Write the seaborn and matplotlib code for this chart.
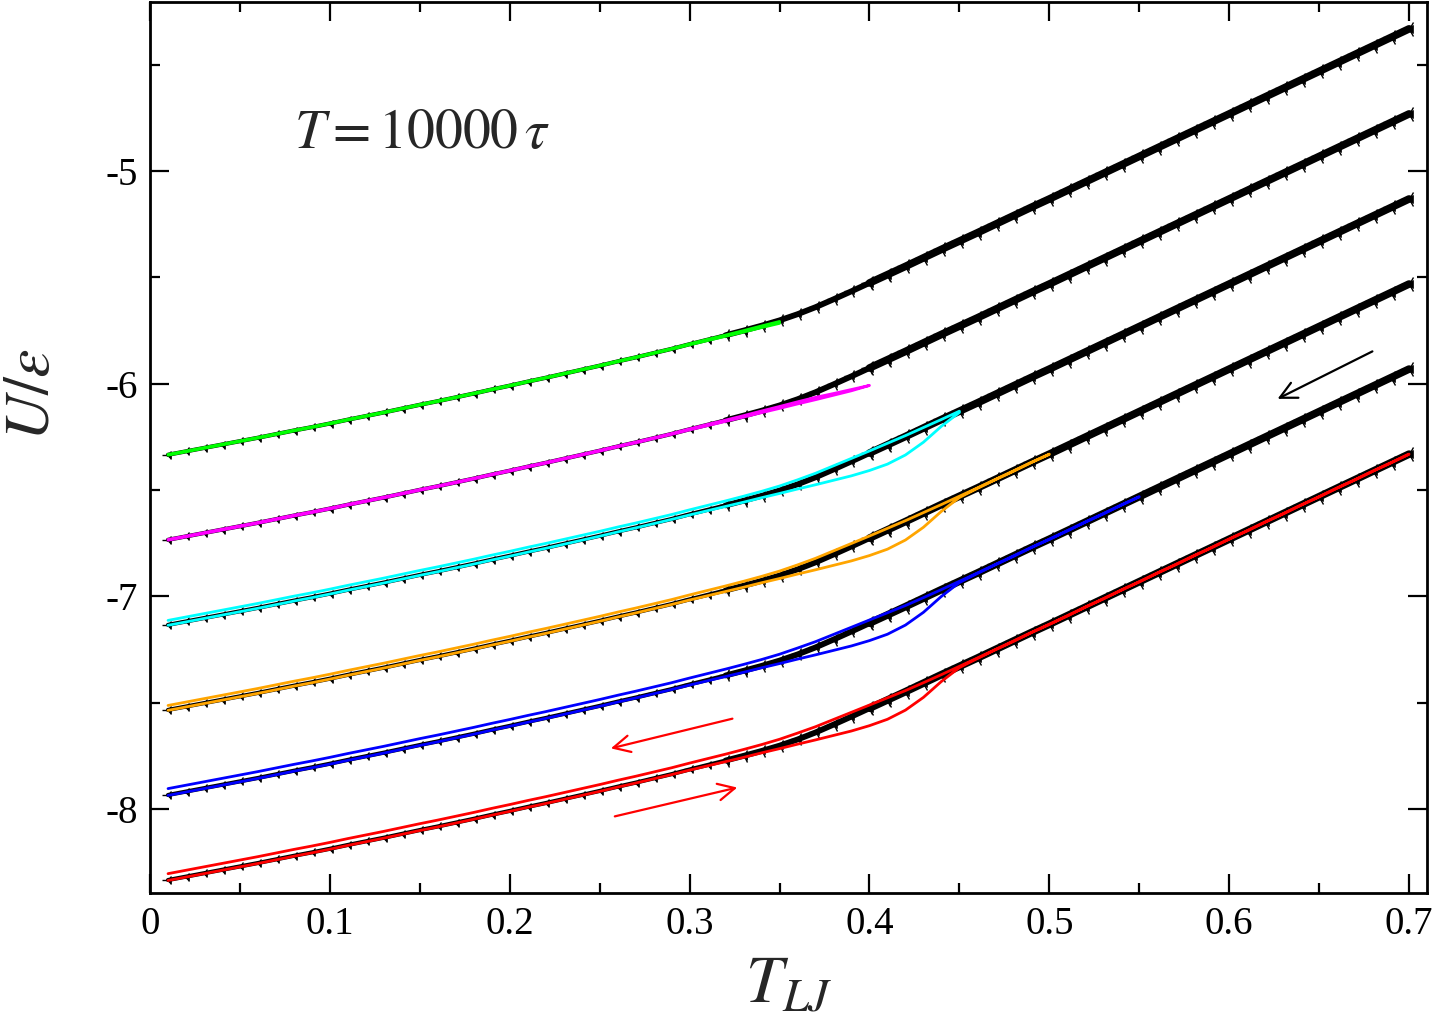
import numpy as np
import pandas as pd
import matplotlib
matplotlib.use("Agg")
import matplotlib.pyplot as plt
import seaborn as sns
from matplotlib.ticker import MultipleLocator

# ---------------- data ----------------
T_GRID = [0.01, 0.02, 0.03, 0.04, 0.05, 0.06, 0.07, 0.08, 0.09, 0.10,
          0.11, 0.12, 0.13, 0.14, 0.15, 0.16, 0.17, 0.18, 0.19, 0.20,
          0.21, 0.22, 0.23, 0.24, 0.25, 0.26, 0.27, 0.28, 0.29, 0.30,
          0.31, 0.32, 0.33, 0.34, 0.35, 0.36, 0.37, 0.38, 0.39, 0.40,
          0.41, 0.42, 0.43, 0.44, 0.45, 0.46, 0.47, 0.48, 0.49, 0.50,
          0.51, 0.52, 0.53, 0.54, 0.55, 0.56, 0.57, 0.58, 0.59, 0.60,
          0.61, 0.62, 0.63, 0.64, 0.65, 0.66, 0.67, 0.68, 0.69, 0.70]

# black cooling curve (lowest, red set level)
BLACK_U = [-8.334, -8.318, -8.302, -8.286, -8.270, -8.254, -8.237, -8.220, -8.204, -8.187,
           -8.169, -8.152, -8.135, -8.117, -8.099, -8.082, -8.064, -8.046, -8.027, -8.009,
           -7.990, -7.972, -7.953, -7.934, -7.915, -7.895, -7.876, -7.856, -7.836, -7.814,
           -7.793, -7.772, -7.750, -7.727, -7.702, -7.673, -7.640, -7.603, -7.565, -7.526,
           -7.487, -7.448, -7.408, -7.368, -7.329, -7.290, -7.250, -7.210, -7.170, -7.131,
           -7.091, -7.051, -7.011, -6.971, -6.931, -6.891, -6.851, -6.811, -6.771, -6.731,
           -6.691, -6.651, -6.611, -6.571, -6.531, -6.491, -6.451, -6.411, -6.371, -6.331]

# heating curve (glass superheated, then jumps to the liquid branch)
HEAT_U = [-8.336, -8.320, -8.304, -8.288, -8.272, -8.256, -8.239, -8.222, -8.206, -8.189,
          -8.171, -8.154, -8.137, -8.119, -8.101, -8.084, -8.066, -8.048, -8.029, -8.011,
          -7.992, -7.974, -7.955, -7.936, -7.917, -7.897, -7.878, -7.858, -7.838, -7.817,
          -7.797, -7.777, -7.757, -7.736, -7.716, -7.695, -7.675, -7.654, -7.633, -7.608,
          -7.578, -7.535, -7.475, -7.400, -7.335, -7.292, -7.251, -7.212, -7.170, -7.132,
          -7.092, -7.050, -7.012, -6.970, -6.932, -6.890, -6.852, -6.810, -6.772, -6.730,
          -6.692, -6.650, -6.612, -6.570, -6.532, -6.490, -6.452, -6.410, -6.372, -6.331]

# cooling back from high Tmax (T = 0.01 ... 0.44); above 0.44 it follows BLACK_U
COOL_HI_U = [-8.304, -8.288, -8.272, -8.256, -8.240, -8.224, -8.207, -8.190, -8.174, -8.157,
             -8.139, -8.122, -8.105, -8.087, -8.069, -8.052, -8.034, -8.016, -7.997, -7.979,
             -7.960, -7.942, -7.923, -7.904, -7.885, -7.865, -7.846, -7.826, -7.806, -7.784,
             -7.763, -7.742, -7.720, -7.697, -7.672, -7.643, -7.613, -7.579, -7.545, -7.511,
             -7.477, -7.443, -7.406, -7.368]
COOL_MID_U = [-8.313, -8.297, -8.281, -8.265, -8.249, -8.233, -8.216, -8.199, -8.183, -8.166,
              -8.148, -8.131, -8.114, -8.096, -8.078, -8.061, -8.043, -8.025, -8.006, -7.988,
              -7.969, -7.951, -7.932, -7.913, -7.894, -7.874, -7.855, -7.835, -7.815, -7.793,
              -7.772, -7.751, -7.729, -7.706, -7.681, -7.652, -7.621, -7.586, -7.551, -7.516,
              -7.480, -7.444, -7.406, -7.368]
# cooling back from a low Tmax (stays on the glass branch, T = 0.01 ... 0.40)
COOL_GLASS_U = [-8.332, -8.316, -8.300, -8.284, -8.268, -8.252, -8.235, -8.218, -8.202, -8.185,
                -8.167, -8.150, -8.133, -8.115, -8.097, -8.080, -8.062, -8.044, -8.025, -8.007,
                -7.988, -7.970, -7.951, -7.932, -7.913, -7.893, -7.874, -7.854, -7.834, -7.812,
                -7.791, -7.771, -7.750, -7.728, -7.707, -7.685, -7.664, -7.646, -7.627, -7.608]

SET_COLORS = ["#ff0000", "#0000ff", "#ffa500", "#00ffff", "#ff00ff", "#00ff00"]
SET_SHIFT = [0.0, 0.4, 0.8, 1.2, 1.6, 2.0]
SET_TMAX = [0.70, 0.55, 0.50, 0.45, 0.40, 0.35]
SET_COOL = ["hi", "hi", "mid", "mid", "glass", "glass"]

X_TICKS = [0, 0.1, 0.2, 0.3, 0.4, 0.5, 0.6, 0.7]
X_LABELS = ["0", "0.1", "0.2", "0.3", "0.4", "0.5", "0.6", "0.7"]
Y_TICKS = [-8, -7, -6, -5]
Y_LABELS = ["-8", "-7", "-6", "-5"]

# ---------------- style ----------------
sns.set_theme(style="ticks")
plt.rcParams["font.family"] = ["Liberation Serif", "DejaVu Serif"]
plt.rcParams["mathtext.fontset"] = "stix"
plt.rcParams["axes.unicode_minus"] = False

fig = plt.figure(figsize=(14.4, 10.3), dpi=100)
ax = fig.add_axes([0.1042, 0.133, 0.8868, 0.865])

T = np.array(T_GRID)
black = np.array(BLACK_U)
heat = np.array(HEAT_U)
cool_tables = {"hi": np.array(COOL_HI_U), "mid": np.array(COOL_MID_U),
               "glass": np.array(COOL_GLASS_U)}

# black cooling curves: thin hairy band in the glass, thicker in the liquid
parts = ((T <= 0.33 + 1e-9, 3.0, 8),
         ((T >= 0.32 - 1e-9) & (T <= 0.41 + 1e-9), 4.2, 10),
         (T >= 0.40 - 1e-9, 5.5, 12))
for shift in SET_SHIFT:
    for part, lw, ms in parts:
        df = pd.DataFrame({"T": T[part][::-1], "U": (black[part] + shift)[::-1]})
        sns.lineplot(data=df, x="T", y="U", sort=False, estimator=None, ax=ax,
                     color="black", lw=lw, marker="3", markersize=ms,
                     markeredgecolor="black", markeredgewidth=1.0, zorder=2,
                     solid_capstyle="round")
        sns.lineplot(data=df, x="T", y="U", sort=False, estimator=None, ax=ax,
                     color="black", lw=0, marker="<", markersize=ms * 0.45,
                     markeredgecolor="black", markeredgewidth=0.5, zorder=2)

# coloured heating / cooling loops
for color, shift, tmax, kind in zip(SET_COLORS, SET_SHIFT, SET_TMAX, SET_COOL):
    m = T <= tmax + 1e-9
    n = int(m.sum())
    th = T[m]
    uh = heat[m] + shift
    tab = cool_tables[kind]
    uc = np.array([tab[i] if i < len(tab) else black[i] for i in range(n)]) + shift
    df = pd.DataFrame({"T": np.concatenate([th, th[::-1]]),
                       "U": np.concatenate([uh, uc[::-1]])})
    sns.lineplot(data=df, x="T", y="U", sort=False, estimator=None, ax=ax,
                 color=color, lw=2.0, zorder=3)

# arrows
ax.annotate("", xy=(0.6255, -6.077), xytext=(0.681, -5.842),
            arrowprops=dict(arrowstyle="->", color="black", lw=1.6, mutation_scale=30))
ax.annotate("", xy=(0.2547, -7.718), xytext=(0.3253, -7.572),
            arrowprops=dict(arrowstyle="->", color="red", lw=1.6, mutation_scale=30))
ax.annotate("", xy=(0.328, -7.896), xytext=(0.2569, -8.0376),
            arrowprops=dict(arrowstyle="->", color="red", lw=1.6, mutation_scale=30))

ax.text(0.080, -4.89, r"$T=10000\,\tau$", fontsize=40, ha="left", va="baseline")

# axes
ax.set_xlim(0, 0.71)
ax.set_ylim(-8.395, -4.205)
ax.set_xticks(X_TICKS)
ax.set_yticks(Y_TICKS)
ax.xaxis.set_minor_locator(MultipleLocator(0.05))
ax.yaxis.set_minor_locator(MultipleLocator(0.5))
ax.set_xticklabels(X_LABELS)
ax.set_yticklabels(Y_LABELS)
ax.tick_params(which="both", direction="in", top=True, right=True, width=1.6,
               labelsize=28, colors="black")
ax.tick_params(which="major", length=14, pad=9)
ax.tick_params(which="minor", length=7)
for sp in ax.spines.values():
    sp.set_linewidth(2.0)
    sp.set_color("black")

ax.set_xlabel(r"$T_{LJ}$", fontsize=48)
ax.set_ylabel(r"$U/\varepsilon$", fontsize=46)
ax.xaxis.set_label_coords(0.5, -0.07)
ax.yaxis.set_label_coords(-0.068, 0.559)

fig.savefig("out.png", dpi=100, facecolor="white")
